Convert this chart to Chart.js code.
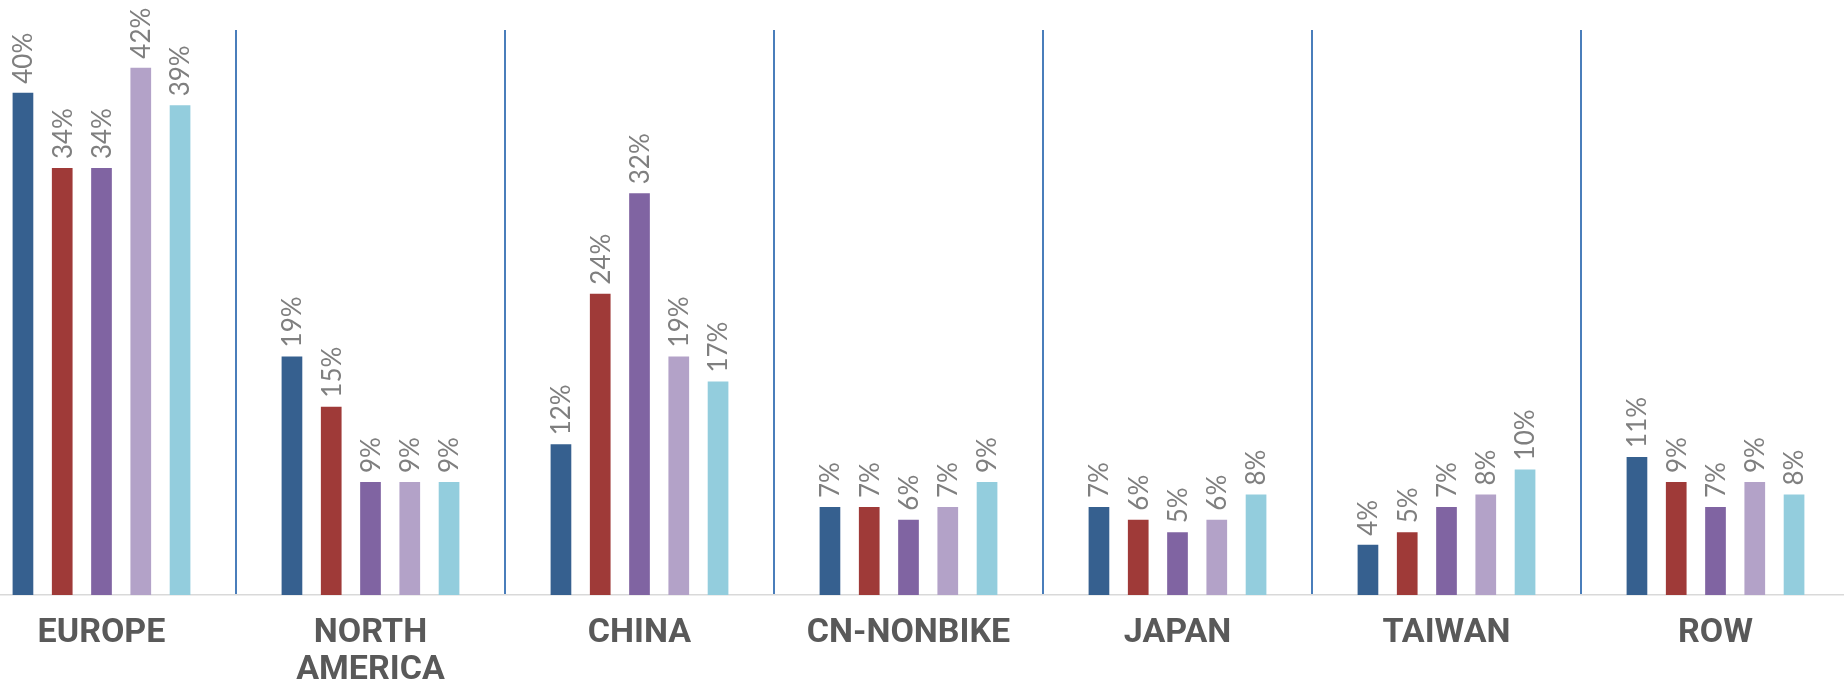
<!DOCTYPE html>
<html>
<head>
<meta charset="utf-8">
<script src="https://cdn.jsdelivr.net/npm/chart.js@4.4.1/dist/chart.umd.min.js"></script>
<style>
  html, body { margin:0; padding:0; background:#fff; overflow:hidden; }
  #wrap { position:absolute; left:-33px; top:0; width:1883px; height:681px; }
</style>
</head>
<body>
<div id="wrap"><canvas id="chart"></canvas></div>
<script>
// categories and series (share as fraction)
const categories = ['EUROPE', ['NORTH', 'AMERICA'], 'CHINA', 'CN-NONBIKE', 'JAPAN', 'TAIWAN', 'ROW'];
const series1 = [0.40, 0.19, 0.12, 0.07, 0.07, 0.04, 0.11];
const series2 = [0.34, 0.15, 0.24, 0.07, 0.06, 0.05, 0.09];
const series3 = [0.34, 0.09, 0.32, 0.06, 0.05, 0.07, 0.07];
const series4 = [0.42, 0.09, 0.19, 0.07, 0.06, 0.08, 0.09];
const series5 = [0.39, 0.09, 0.17, 0.09, 0.08, 0.10, 0.08];
const colors = ['#36608f', '#9f3a38', '#8064a2', '#b3a2c8', '#93cddd'];

// rotated value labels above each bar
const valueLabels = {
  id: 'valueLabels',
  afterDatasetsDraw(chart){
    const ctx = chart.ctx;
    ctx.save();
    ctx.font = '26px Lato, "Noto Sans", sans-serif';
    ctx.fillStyle = '#7f7f7f';
    ctx.textAlign = 'left';
    ctx.textBaseline = 'middle';
    chart.data.datasets.forEach((ds, i) => {
      chart.getDatasetMeta(i).data.forEach((bar, j) => {
        ctx.save();
        ctx.translate(bar.x + 1, bar.y - 9);
        ctx.rotate(-Math.PI / 2);
        ctx.fillText(Math.round(ds.data[j] * 100) + '%', 0, 0);
        ctx.restore();
      });
    });
    ctx.restore();
  }
};

new Chart(document.getElementById('chart'), {
  type: 'bar',
  data: {
    labels: categories,
    datasets: [series1, series2, series3, series4, series5].map((d, i) => ({
      data: d,
      backgroundColor: colors[i],
      categoryPercentage: 0.73,
      barPercentage: 0.527
    }))
  },
  options: {
    responsive: true,
    maintainAspectRatio: false,
    animation: false,
    layout: { padding: { top: 30, left: 0, right: 0, bottom: 0 } },
    plugins: { legend: { display: false }, tooltip: { enabled: false } },
    scales: {
      x: {
        offset: true,
        grid: { display: true, offset: true, color: '#4a7ebb', lineWidth: 2, drawTicks: false },
        border: { display: true, color: '#d9d9d9', width: 1.5 },
        ticks: {
          color: '#595959',
          padding: 20,
          maxRotation: 0,
          autoSkip: false,
          font: { family: 'Roboto, "DejaVu Sans", sans-serif', size: 34, weight: 'bold', lineHeight: 1.09 }
        },
        afterFit(scale){ scale.height = 86; }
      },
      y: { display: false, min: 0, max: 0.45 }
    }
  },
  plugins: [valueLabels]
});
</script>
</body>
</html>
